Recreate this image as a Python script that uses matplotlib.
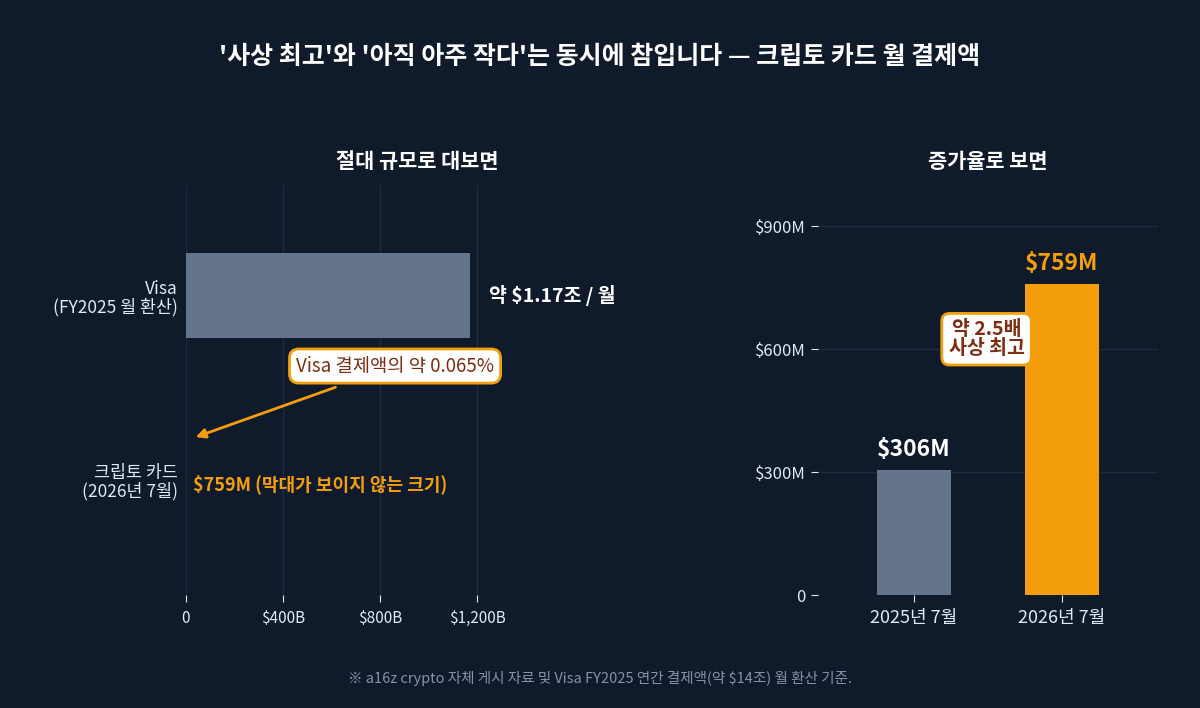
import matplotlib
matplotlib.use("Agg")
import matplotlib.pyplot as plt

plt.rcParams['font.family'] = ['Noto Sans CJK KR', 'DejaVu Sans']

# ---- data ----
left_categories = ["Visa\n(FY2025 월 환산)", "크립토 카드\n(2026년 7월)"]
left_values_b = [1170, 0.759]          # billions USD per month
left_ticks = [0, 400, 800, 1200]
left_ticklabels = ["0", "$400B", "$800B", "$1,200B"]

right_categories = ["2025년 7월", "2026년 7월"]
right_values_m = [306, 759]            # millions USD
right_ticks = [0, 300, 600, 900]
right_ticklabels = ["0", "$300M", "$600M", "$900M"]

title = "'사상 최고'와 '아직 아주 작다'는 동시에 참입니다 — 크립토 카드 월 결제액"
left_title = "절대 규모로 대보면"
right_title = "증가율로 보면"
visa_label = "약 $1.17조 / 월"
crypto_label = "$759M (막대가 보이지 않는 크기)"
callout_left = "Visa 결제액의 약 0.065%"
callout_right = "약 2.5배\n사상 최고"
right_bar_labels = ["$306M", "$759M"]
footnote = "※ a16z crypto 자체 게시 자료 및 Visa FY2025 연간 결제액(약 $14조) 월 환산 기준."

# ---- style ----
BG = "#0f1b2b"
GRAY = "#64748b"
ORANGE = "#f59e0b"
BROWN = "#7c2d12"
GRID = "#1f2b3d"
TICK = "#e2e8f0"
WHITE = "#ffffff"

fig = plt.figure(figsize=(12, 7.08), dpi=100, facecolor=BG)

fig.text(0.5, 1 - 57 / 708, title, ha="center", va="center", color=WHITE,
         fontsize=18, fontweight="bold")

# ---- left axes ----
axL = fig.add_axes([186 / 1200, 0.1596, 462 / 1200, 0.579])
axL.set_facecolor(BG)
ypos = [0, 1]
colors = [GRAY, ORANGE]
axL.barh(ypos, left_values_b, height=0.46, color=colors, zorder=3)
axL.set_ylim(1.62, -0.6)
axL.set_xlim(0, 1905)
axL.set_xticks(left_ticks)
axL.set_xticklabels(left_ticklabels, color=TICK, fontsize=11)
axL.set_yticks(ypos)
axL.set_yticklabels(left_categories, color=TICK, fontsize=12.5, linespacing=1.0)
axL.tick_params(axis="y", length=0, pad=6)
axL.tick_params(axis="x", length=5, color=TICK, pad=6)
axL.grid(axis="x", color=GRID, linewidth=1, zorder=0)
for s in axL.spines.values():
    s.set_visible(False)
axL.set_title(left_title, color=WHITE, fontsize=15, fontweight="bold", pad=12)

axL.text(left_values_b[0] + 80, 0, visa_label, ha="left", va="center",
         color=WHITE, fontsize=14, fontweight="bold")
axL.text(28, 1.02, crypto_label, ha="left", va="center",
         color=ORANGE, fontsize=13, fontweight="bold")

axL.annotate("", xy=(29, 0.77), xytext=(627, 0.49),
             arrowprops=dict(arrowstyle="-|>", color=ORANGE, lw=2,
                             mutation_scale=14), zorder=5)
axL.text(862, 0.38, callout_left, ha="center", va="center", color=BROWN,
         fontsize=13.5, zorder=6,
         bbox=dict(boxstyle="round,pad=0.35,rounding_size=0.5",
                   fc=WHITE, ec=ORANGE, lw=2))

# ---- right axes ----
axR = fig.add_axes([818 / 1200, 0.1596, 340 / 1200, 0.579])
axR.set_facecolor(BG)
xpos = [0, 1]
axR.bar(xpos, right_values_m, width=0.5, color=[GRAY, ORANGE], zorder=3)
axR.set_xlim(-0.65, 1.65)
axR.set_ylim(0, 1000)
axR.set_yticks(right_ticks)
axR.set_yticklabels(right_ticklabels, color=TICK, fontsize=12)
axR.set_xticks(xpos)
axR.set_xticklabels(right_categories, color=TICK, fontsize=13)
axR.tick_params(axis="y", length=5, color=TICK, pad=4)
axR.tick_params(axis="x", length=5, color=TICK, pad=5)
axR.grid(axis="y", color=GRID, linewidth=1, zorder=0)
for s in axR.spines.values():
    s.set_visible(False)
axR.set_title(right_title, color=WHITE, fontsize=15, fontweight="bold", pad=12)

label_colors = [WHITE, ORANGE]
for x, v, lab, c in zip(xpos, right_values_m, right_bar_labels, label_colors):
    axR.text(x, v + 22, lab, ha="center", va="bottom", color=c,
             fontsize=16.5, fontweight="bold")

axR.text(0.49, 624, callout_right, ha="center", va="center", color=BROWN,
         fontsize=14, fontweight="bold", zorder=6, linespacing=1.0,
         bbox=dict(boxstyle="round,pad=0.35,rounding_size=0.4",
                   fc=WHITE, ec=ORANGE, lw=2))

fig.text(0.5, 1 - 678 / 708, footnote, ha="center", va="center",
         color="#8593a8", fontsize=10.5)

fig.savefig("out.png", dpi=100, facecolor=BG)
